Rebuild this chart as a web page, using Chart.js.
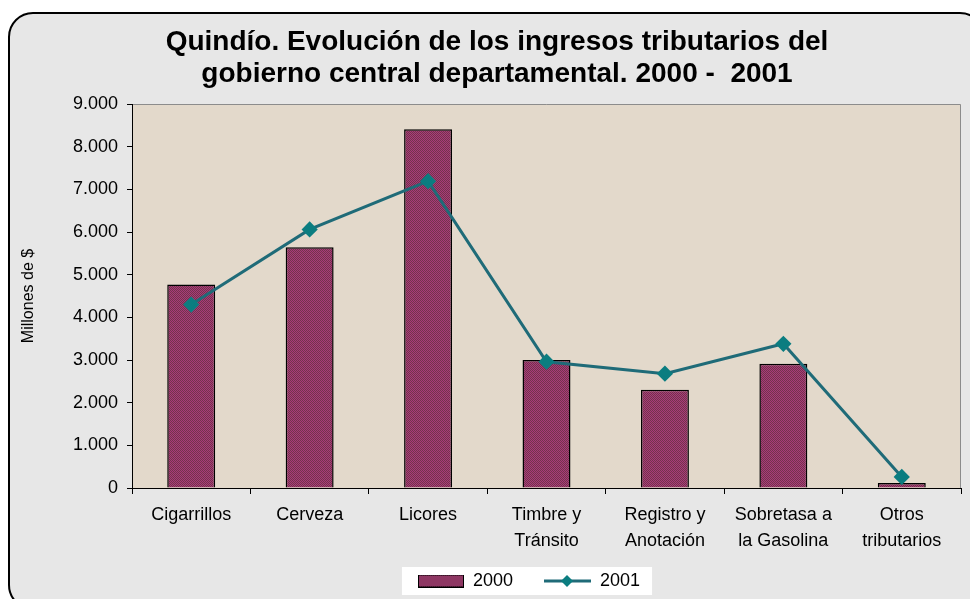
<!DOCTYPE html>
<html>
<head>
<meta charset="utf-8">
<script src="https://cdn.jsdelivr.net/npm/chart.js@4.4.1/dist/chart.umd.min.js"></script>
<style>
  html, body { margin: 0; padding: 0; background: #fff; }
  #wrap { width: 970px; height: 599px; }
</style>
</head>
<body>
<div id="wrap"><canvas id="myChart" width="970" height="599"></canvas></div>
<script>
const categories = [
  ['Cigarrillos'], ['Cerveza'], ['Licores'], ['Timbre y', 'Tránsito'],
  ['Registro y', 'Anotación'], ['Sobretasa a', 'la Gasolina'], ['Otros', 'tributarios']
];
const values2000 = [4770, 5640, 8410, 3000, 2300, 2910, 120];
const values2001 = [4300, 6060, 7190, 2960, 2680, 3380, 260];
const seriesNames = ['2000', '2001'];
const titleLines = ['Quindío. Evolución de los ingresos tributarios del', 'gobierno central departamental. 2000 -  2001'];
const yLabel = 'Millones de $';
const yMax = 9000;
const yStep = 1000;

const lineColor = '#1f6b78';
const markerColor = '#0b7d80';

// fine checker fill like the excel bar pattern
function makeChecker() {
  const c = document.createElement('canvas');
  c.width = 2; c.height = 2;
  const g = c.getContext('2d');
  g.fillStyle = '#a83b7a';
  g.fillRect(0, 0, 2, 2);
  g.fillStyle = '#74334c';
  g.fillRect(0, 0, 1, 1);
  g.fillRect(1, 1, 1, 1);
  return g.createPattern(c, 'repeat');
}
const barFill = makeChecker();

// legend icons get 22px of empty space on the left to widen the gap between items
function legendBarIcon() {
  const c = document.createElement('canvas');
  c.width = 68; c.height = 13;
  const g = c.getContext('2d');
  g.fillStyle = barFill;
  g.fillRect(23, 1, 44, 11);
  g.strokeStyle = '#000';
  g.lineWidth = 1;
  g.strokeRect(22.5, 0.5, 45, 12);
  return c;
}

function legendLineIcon() {
  const c = document.createElement('canvas');
  c.width = 68; c.height = 14;
  const g = c.getContext('2d');
  g.strokeStyle = lineColor;
  g.lineWidth = 3;
  g.beginPath(); g.moveTo(21, 7); g.lineTo(68, 7); g.stroke();
  g.fillStyle = markerColor;
  g.beginPath(); g.moveTo(44, 1); g.lineTo(50, 7); g.lineTo(44, 13); g.lineTo(38, 7); g.closePath(); g.fill();
  return c;
}
const legendIcons = [legendBarIcon(), legendLineIcon()];

const backdrop = {
  id: 'backdrop',
  afterLayout(chart) {
    const l = chart.legend;
    l.left += 21; l.right += 21;
    l.top += 1; l.bottom += 1;
  },
  beforeDraw(chart) {
    const ctx = chart.ctx;
    const a = chart.chartArea;
    ctx.save();
    ctx.fillStyle = '#fff';
    ctx.fillRect(0, 0, chart.width, chart.height);
    ctx.beginPath();
    ctx.roundRect(9, 13, 975, 596, 24);
    ctx.fillStyle = '#e7e7e7';
    ctx.fill();
    ctx.lineWidth = 2;
    ctx.strokeStyle = '#000';
    ctx.stroke();
    ctx.fillStyle = '#e3d9cb';
    ctx.fillRect(a.left, a.top, a.right - a.left, a.bottom - a.top);
    ctx.strokeStyle = '#8c8c8c';
    ctx.lineWidth = 1;
    ctx.beginPath();
    ctx.moveTo(a.left, a.top + 0.5); ctx.lineTo(a.right - 0.5, a.top + 0.5); ctx.lineTo(a.right - 0.5, a.bottom);
    ctx.stroke();
    // white legend box
    const l = chart.legend;
    if (l && l.legendHitBoxes && l.legendHitBoxes.length) {
      const hb = l.legendHitBoxes;
      const x0 = hb[0].left + 22 - 16;
      const x1 = hb[hb.length - 1].left + hb[hb.length - 1].width + 12;
      const cy = hb[0].top + hb[0].height / 2;
      ctx.fillStyle = '#fff';
      ctx.fillRect(x0, cy - 14, x1 - x0, 28);
    }
    ctx.restore();
  }
};

Chart.defaults.font.family = '"Liberation Sans", Arial, sans-serif';
Chart.defaults.color = '#000';

const myChart = new Chart('myChart', {
  data: {
    labels: categories,
    datasets: [
      {
        type: 'bar',
        label: seriesNames[0],
        data: values2000,
        backgroundColor: barFill,
        borderColor: '#000',
        borderWidth: 1.5,
        barPercentage: 0.405,
        categoryPercentage: 1,
        order: 2
      },
      {
        type: 'line',
        label: seriesNames[1],
        data: values2001,
        borderColor: lineColor,
        borderWidth: 3,
        pointStyle: 'rectRot',
        pointRadius: 6,
        pointBackgroundColor: markerColor,
        pointBorderColor: markerColor,
        tension: 0,
        order: 1
      }
    ]
  },
  options: {
    responsive: false,
    animation: false,
    layout: { padding: { left: 31, right: 7, top: 0, bottom: 0 } },
    plugins: {
      title: {
        display: true,
        text: titleLines,
        font: { size: 28, weight: 'bold', lineHeight: '32px' },
        padding: { top: 26, bottom: 14 },
        color: '#000'
      },
      legend: {
        position: 'bottom',
        labels: {
          usePointStyle: true,
          pointStyleWidth: 68,
          boxHeight: 13,
          padding: 10,
          font: { size: 18 },
          color: '#000',
          sort: (a, b) => a.datasetIndex - b.datasetIndex,
          generateLabels(chart) {
            const items = Chart.defaults.plugins.legend.labels.generateLabels(chart);
            items.forEach(it => { it.pointStyle = legendIcons[it.datasetIndex]; });
            return items;
          }
        }
      },
      tooltip: { enabled: false }
    },
    scales: {
      x: {
        offset: true,
        grid: { offset: true, drawOnChartArea: false, color: '#000', tickLength: 6, tickColor: '#000' },
        border: { color: '#000', width: 1 },
        ticks: { font: { size: 18, lineHeight: 1.45 }, padding: 8, maxRotation: 0, autoSkip: false, color: '#000' },
        afterFit(scale) { scale.height = 73; }
      },
      y: {
        min: 0,
        max: yMax,
        ticks: {
          stepSize: yStep,
          font: { size: 18 },
          padding: 9,
          color: '#000',
          callback: v => v.toLocaleString('de-DE')
        },
        grid: { drawOnChartArea: false, color: '#000', tickLength: 5, tickColor: '#000' },
        border: { color: '#000', width: 1 },
        title: { display: true, text: yLabel, font: { size: 16 }, padding: { top: -12, bottom: 0 }, color: '#000' },
        afterFit(scale) { scale.width = 101; }
      }
    }
  },
  plugins: [backdrop]
});
</script>
</body>
</html>
